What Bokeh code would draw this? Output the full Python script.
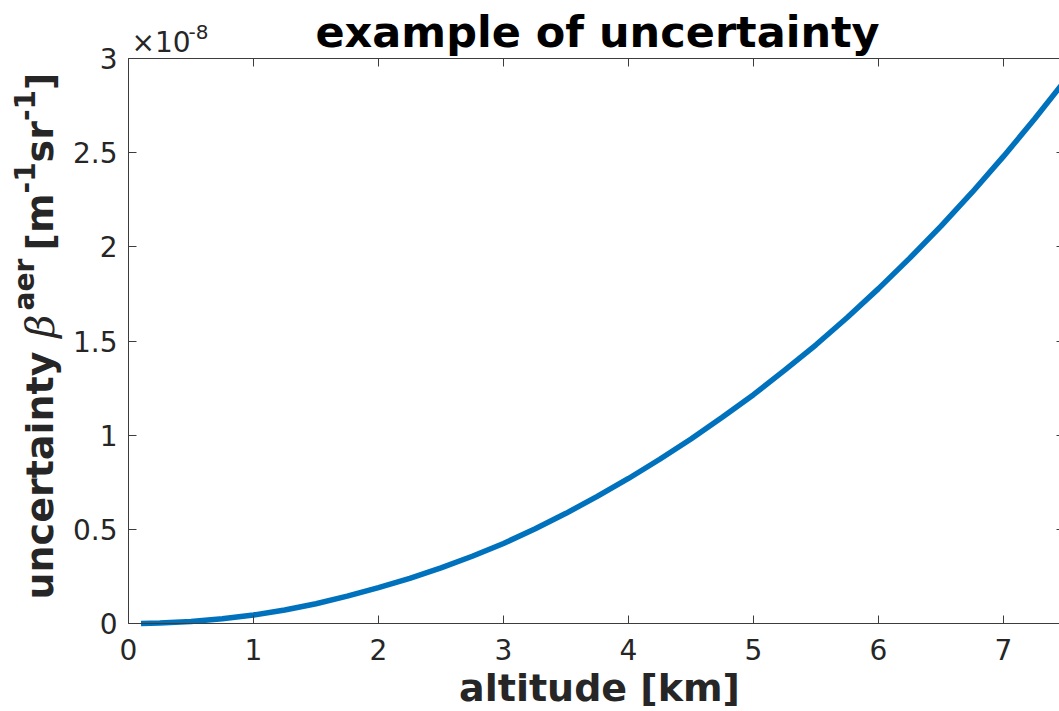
import math
from bokeh.plotting import figure
from bokeh.models import Label, LinearAxis, FixedTicker, Range1d
from bokeh.embed import file_html
from bokeh.resources import INLINE

# ---- data (y in units of 1e-8) ----
altitude_km = [0.1, 0.25, 0.5, 0.75, 1.0, 1.25, 1.5, 1.75, 2.0, 2.25, 2.5, 2.75,
               3.0, 3.25, 3.5, 3.75, 4.0, 4.25, 4.5, 4.75, 5.0, 5.25, 5.5, 5.75,
               6.0, 6.25, 6.5, 6.75, 7.0, 7.25, 7.5]
uncertainty_e8 = [0.0005, 0.003, 0.011, 0.025, 0.045, 0.072, 0.105, 0.145, 0.19, 0.24,
                  0.295, 0.357, 0.425, 0.502, 0.585, 0.675, 0.77, 0.872, 0.98, 1.095,
                  1.215, 1.345, 1.48, 1.625, 1.778, 1.94, 2.11, 2.29, 2.48, 2.68, 2.89]
x_ticks = [0, 1, 2, 3, 4, 5, 6, 7]
x_tick_labels = ["0", "1", "2", "3", "4", "5", "6", "7"]
y_ticks = [0, 0.5, 1, 1.5, 2, 2.5, 3]
y_tick_labels = ["0", "0.5", "1", "1.5", "2", "2.5", "3"]
x_axis_max = 7.448
y_axis_max = 3.0
title_text = "example of uncertainty"
x_label_text = "altitude [km]"
# (text, kind, gap after it in em of the main size)
y_label_parts = [("uncertainty", "main", 0.348), ("β", "greek", 0.1), ("aer", "sup", 0.22),
                 ("[m", "main", 0.0), ("-1", "sup", 0.0), ("sr", "main", 0.0),
                 ("-1", "sup", 0.0), ("]", "main", 0.0)]
exponent_base = "×10"
exponent_power = "-8"

# ---- page geometry (pixels) ----
PAGE_W, PAGE_H = 1059, 711
BOX_LEFT, BOX_RIGHT, BOX_TOP, BOX_BOTTOM = 128, 1059, 58, 623
FONT = "DejaVu Sans"
TXT = "#262626"
AX = "#3c3c3c"
TICK_FS = "28px"

# the frame is the whole canvas; axes are pinned at the box edges
px_per_x = (BOX_RIGHT - BOX_LEFT) / x_axis_max
px_per_y = (BOX_BOTTOM - BOX_TOP) / y_axis_max
x_range = Range1d(-BOX_LEFT / px_per_x, x_axis_max + (PAGE_W - BOX_RIGHT) / px_per_x)
y_range = Range1d(-(PAGE_H - BOX_BOTTOM) / px_per_y, y_axis_max + BOX_TOP / px_per_y)

p = figure(width=PAGE_W, height=PAGE_H, output_backend="svg", toolbar_location=None,
           title=None, x_range=x_range, y_range=y_range, min_border=0,
           x_axis_location=None, y_axis_location=None)
p.outline_line_color = None
p.background_fill_color = "white"
p.border_fill_color = "white"
p.xgrid.visible = False
p.ygrid.visible = False


def axis(ticks, labels, fixed, bounds, tick_in=8, standoff=0, show_labels=True, line=True):
    if show_labels:
        ticker = FixedTicker(ticks=ticks)
        kw = dict(major_label_overrides={t: s for t, s in zip(ticks, labels)},
                  major_tick_in=tick_in, major_tick_out=0,
                  major_tick_line_color=AX, minor_tick_line_color=None,
                  major_label_text_font_size=TICK_FS, major_label_standoff=standoff)
    else:
        ticker = FixedTicker(ticks=[], minor_ticks=ticks)
        kw = dict(major_tick_line_color=None, minor_tick_line_color=AX,
                  minor_tick_in=tick_in, minor_tick_out=0,
                  major_label_text_font_size="1px", major_label_standoff=0)
    return LinearAxis(ticker=ticker, fixed_location=fixed, bounds=bounds,
                      axis_line_color=AX if line else None, axis_line_width=1,
                      major_label_text_font=FONT, major_label_text_color=TXT, **kw)


p.add_layout(axis(x_ticks, x_tick_labels, 0, (0, x_axis_max), standoff=15), "below")
p.add_layout(axis(y_ticks, y_tick_labels, 0, (0, y_axis_max), standoff=11), "left")
p.add_layout(axis(x_ticks, x_tick_labels, y_axis_max, (0, x_axis_max), show_labels=False), "above")
p.add_layout(axis(y_ticks, y_tick_labels, x_axis_max, (0, y_axis_max), tick_in=3,
                  show_labels=False, line=False), "right")

p.line(altitude_km, uncertainty_e8, line_color="#0072BD", line_width=5.5)

MID = 0.346  # distance from baseline to the middle of the text box, in em


def put(px, baseline, text, size, style="normal", color=TXT, align="left",
        font=FONT, rotated=False, length=0.0):
    """Place text by its baseline in page pixels, anchored at the text box centre line."""
    if rotated:
        cx = baseline - MID * size      # glyph tops point left
        cy = px - length / 2            # px is the start (bottom) of the text
        x, y, a, ang = cx, PAGE_H - cy, "center", math.pi / 2
    else:
        x, y, a, ang = px, PAGE_H - (baseline - MID * size), align, 0.0
    p.add_layout(Label(x=x, y=y, x_units="screen", y_units="screen", text=text,
                       text_font=font, text_font_size=f"{size}px", text_font_style=style,
                       text_color=color, text_align=a, text_baseline="middle",
                       angle=ang, angle_units="rad"))


# title, x label, exponent
put(597, 46, title_text, 43, "bold", "#000000", "center")
put(599, 701, x_label_text, 38, "bold", TXT, "center")
put(131, 52, exponent_base, 28)
put(188, 38, exponent_power, 20)

# y label, piece by piece going upward
W_BOLD = {"a": 0.675, "c": 0.593, "e": 0.678, "i": 0.343, "n": 0.712,
          "r": 0.493, "t": 0.478, "u": 0.712, "y": 0.652, "[": 0.457, "]": 0.457,
          "m": 1.042, "s": 0.595, "-": 0.415, "1": 0.696}
MAIN, SUP, GREEK = 38, 28, 40
pos = 599.0
for text, kind, gap in y_label_parts:
    if kind == "main":
        w = sum(W_BOLD[c] for c in text) * MAIN
        put(pos, 53, text, MAIN, "bold", rotated=True, length=w)
    elif kind == "sup":
        w = sum(W_BOLD[c] for c in text) * SUP
        put(pos, 34, text, SUP, "bold", rotated=True, length=w)
    else:
        w = 0.6 * GREEK
        put(pos, 53, text, GREEK, "italic", font="DejaVu Serif", rotated=True, length=w)
    pos -= w + gap * MAIN

open("out.html", "w").write(file_html(p, INLINE))
